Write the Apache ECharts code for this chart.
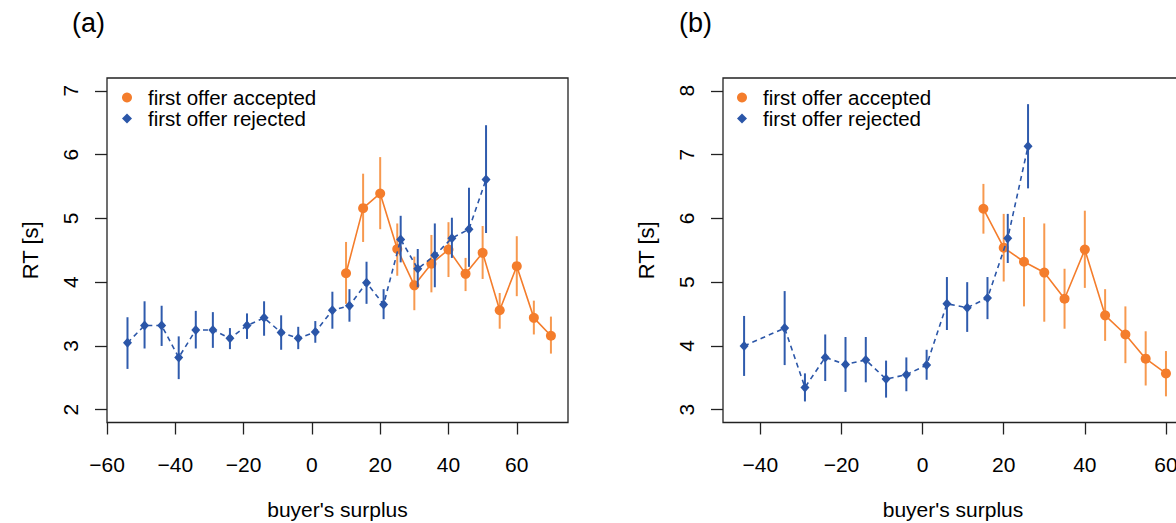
<!DOCTYPE html>
<html>
<head>
<meta charset="utf-8">
<script src="https://cdn.jsdelivr.net/npm/echarts@6/dist/echarts.min.js"></script>
<style>
html,body{margin:0;padding:0;background:#fff;}
#c{width:1176px;height:523px;}
</style>
</head>
<body>
<div id="c"></div>
<script>
// ---------- data ----------
const seriesNames = ['first offer accepted', 'first offer rejected'];
const panelTitles = ['(a)', '(b)'];
const xAxisTitle = "buyer's surplus";
const yAxisTitle = 'RT [s]';

// panel (a)
const a_acc_x  = [10, 15, 20, 25, 30, 35, 40, 45, 50, 55, 60, 65, 70];
const a_acc_y  = [4.14, 5.16, 5.39, 4.52, 3.95, 4.29, 4.51, 4.13, 4.46, 3.56, 4.25, 3.44, 3.16];
const a_acc_lo = [3.66, 4.63, 4.83, 4.10, 3.56, 3.84, 4.08, 3.86, 4.05, 3.27, 3.78, 3.18, 2.88];
const a_acc_hi = [4.63, 5.70, 5.96, 4.92, 4.40, 4.74, 4.94, 4.38, 4.88, 3.83, 4.72, 3.71, 3.46];

const a_rej_x  = [-54, -49, -44, -39, -34, -29, -24, -19, -14, -9, -4, 1, 6, 11, 16, 21, 26, 31, 36, 41, 46, 51];
const a_rej_y  = [3.05, 3.32, 3.32, 2.82, 3.25, 3.25, 3.12, 3.32, 3.44, 3.21, 3.12, 3.22, 3.56, 3.63, 3.99, 3.65, 4.67, 4.21, 4.42, 4.69, 4.83, 5.61];
const a_rej_lo = [2.64, 2.96, 3.00, 2.48, 2.96, 2.97, 2.95, 3.11, 3.16, 2.94, 2.95, 3.05, 3.27, 3.38, 3.66, 3.42, 4.31, 3.92, 3.92, 4.38, 4.24, 4.77];
const a_rej_hi = [3.45, 3.70, 3.63, 3.15, 3.55, 3.53, 3.28, 3.51, 3.70, 3.48, 3.30, 3.39, 3.85, 3.89, 4.32, 3.89, 5.04, 4.52, 4.92, 5.01, 5.48, 6.46];

// panel (b)
const b_acc_x  = [15, 20, 25, 30, 35, 40, 45, 50, 55, 60];
const b_acc_y  = [6.15, 5.54, 5.32, 5.15, 4.74, 5.51, 4.48, 4.18, 3.80, 3.57];
const b_acc_lo = [5.76, 5.01, 4.62, 4.38, 4.27, 4.91, 4.08, 3.73, 3.38, 3.21];
const b_acc_hi = [6.54, 6.07, 6.02, 5.92, 5.21, 6.12, 4.89, 4.62, 4.23, 3.92];

const b_rej_x  = [-44, -34, -29, -24, -19, -14, -9, -4, 1, 6, 11, 16, 21, 26];
const b_rej_y  = [4.00, 4.28, 3.35, 3.82, 3.71, 3.78, 3.48, 3.55, 3.70, 4.66, 4.60, 4.75, 5.69, 7.13];
const b_rej_lo = [3.53, 3.70, 3.13, 3.45, 3.28, 3.43, 3.19, 3.29, 3.47, 4.25, 4.22, 4.42, 5.30, 6.47];
const b_rej_hi = [4.47, 4.86, 3.57, 4.18, 4.14, 4.14, 3.77, 3.82, 3.94, 5.08, 5.00, 5.08, 6.07, 7.79];

// axis limits (data limits; R adds 4% each side) and tick labels
const a_xlim = [-55, 70];
const a_ylim = [2, 7];
const b_xlim = [-45, 60];
const b_ylim = [3, 8];
const a_x_ticks = [-60, -40, -20, 0, 20, 40, 60];
const a_y_ticks = [2, 3, 4, 5, 6, 7];
const b_x_ticks = [-40, -20, 0, 20, 40, 60];
const b_y_ticks = [3, 4, 5, 6, 7, 8];

// ---------- styling ----------
const FONT = '"Liberation Sans", Arial, Helvetica, sans-serif';
const ORANGE = '#F47D2C';
const ORANGE_BAR = '#F7994F';
const BLUE = '#2B56A8';
const BLUE_BAR = '#2F5BAD';
const AXIS_C = '#222';

function ext(lim) { const d = (lim[1] - lim[0]) * 0.04; return [lim[0] - d, lim[1] + d]; }
function fmt(v) { return v < 0 ? '\u2212' + Math.abs(v) : String(v); }
function zip(x, y) { return x.map((v, i) => [v, y[i]]); }
function zip3(x, lo, hi) { return x.map((v, i) => [v, lo[i], hi[i]]); }

function errRender(color) {
  return function (params, api) {
    const p1 = api.coord([api.value(0), api.value(1)]);
    const p2 = api.coord([api.value(0), api.value(2)]);
    return { type: 'line', shape: { x1: p1[0], y1: p1[1], x2: p2[0], y2: p2[1] },
             style: { stroke: color, lineWidth: 2 } };
  };
}

function xAxisFor(gi, lim, ticks) {
  const e = ext(lim);
  return {
    type: 'value', gridIndex: gi, min: e[0], max: e[1], position: 'bottom',
    name: xAxisTitle, nameLocation: 'middle', nameGap: 76,
    nameTextStyle: { fontFamily: FONT, fontSize: 21, color: '#000' },
    axisLine: { show: false, onZero: false },
    splitLine: { show: false },
    axisTick: { show: true, length: 12, customValues: ticks, lineStyle: { color: AXIS_C, width: 1.3 } },
    axisLabel: { show: true, customValues: ticks, formatter: fmt, margin: 42,
                 fontFamily: FONT, fontSize: 21, color: '#000', verticalAlign: 'middle' }
  };
}
function yAxisFor(gi, lim, ticks) {
  const e = ext(lim);
  return {
    type: 'value', gridIndex: gi, min: e[0], max: e[1], position: 'left',
    name: yAxisTitle, nameLocation: 'middle', nameGap: 66, nameRotate: 90,
    nameTextStyle: { fontFamily: FONT, fontSize: 22, color: '#000' },
    axisLine: { show: false, onZero: false },
    splitLine: { show: false },
    axisTick: { show: true, length: 12, customValues: ticks, lineStyle: { color: AXIS_C, width: 1.3 } },
    axisLabel: { show: true, customValues: ticks, rotate: 90, margin: 26,
                 fontFamily: FONT, fontSize: 21, color: '#000' }
  };
}

function panelSeries(idx, acc, rej) {
  return [
    { type: 'custom', name: 'acc-err-' + idx, xAxisIndex: idx, yAxisIndex: idx, z: 2,
      renderItem: errRender(ORANGE_BAR), data: zip3(acc.x, acc.lo, acc.hi), encode: { x: 0, y: [1, 2] }, silent: true },
    { type: 'line', name: seriesNames[0], xAxisIndex: idx, yAxisIndex: idx, z: 3,
      data: zip(acc.x, acc.y), symbol: 'circle', symbolSize: 10,
      itemStyle: { color: ORANGE }, lineStyle: { color: ORANGE, width: 1.6 }, silent: true },
    { type: 'custom', name: 'rej-err-' + idx, xAxisIndex: idx, yAxisIndex: idx, z: 4,
      renderItem: errRender(BLUE_BAR), data: zip3(rej.x, rej.lo, rej.hi), encode: { x: 0, y: [1, 2] }, silent: true },
    { type: 'line', name: seriesNames[1], xAxisIndex: idx, yAxisIndex: idx, z: 5,
      data: zip(rej.x, rej.y), symbol: 'diamond', symbolSize: [9, 10],
      itemStyle: { color: BLUE }, lineStyle: { color: BLUE, width: 1.6, type: [5, 4] }, silent: true }
  ];
}

function legendFor(left) {
  return {
    orient: 'vertical', left: left, top: 87, padding: 0, itemGap: 0,
    itemWidth: 10, itemHeight: 10, selectedMode: false,
    textStyle: { fontFamily: FONT, fontSize: 20.5, color: '#000', lineHeight: 20, padding: [0, 0, 0, 11] },
    data: [{ name: seriesNames[0], icon: 'circle' }, { name: seriesNames[1], icon: 'diamond' }]
  };
}

const chart = echarts.init(document.getElementById('c'), null, { renderer: 'svg' });
chart.setOption({
  animation: false,
  backgroundColor: '#fff',
  title: [
    { text: panelTitles[0], left: 72, top: 9, padding: 0, textStyle: { fontFamily: FONT, fontSize: 27, fontWeight: 'normal', color: '#000' } },
    { text: panelTitles[1], left: 679, top: 9, padding: 0, textStyle: { fontFamily: FONT, fontSize: 27, fontWeight: 'normal', color: '#000' } }
  ],
  legend: [legendFor(122), legendFor(737)],
  grid: [
    { left: 107, top: 78, width: 461, height: 344.5, show: true, borderColor: AXIS_C, borderWidth: 1.3, backgroundColor: 'transparent', containLabel: false, outerBoundsMode: 'none' },
    { left: 723, top: 78, width: 460, height: 344.5, show: true, borderColor: AXIS_C, borderWidth: 1.3, backgroundColor: 'transparent', containLabel: false, outerBoundsMode: 'none' }
  ],
  xAxis: [xAxisFor(0, a_xlim, a_x_ticks), xAxisFor(1, b_xlim, b_x_ticks)],
  yAxis: [yAxisFor(0, a_ylim, a_y_ticks), yAxisFor(1, b_ylim, b_y_ticks)],
  series: [].concat(
    panelSeries(0, { x: a_acc_x, y: a_acc_y, lo: a_acc_lo, hi: a_acc_hi }, { x: a_rej_x, y: a_rej_y, lo: a_rej_lo, hi: a_rej_hi }),
    panelSeries(1, { x: b_acc_x, y: b_acc_y, lo: b_acc_lo, hi: b_acc_hi }, { x: b_rej_x, y: b_rej_y, lo: b_rej_lo, hi: b_rej_hi })
  )
});
</script>
</body>
</html>
